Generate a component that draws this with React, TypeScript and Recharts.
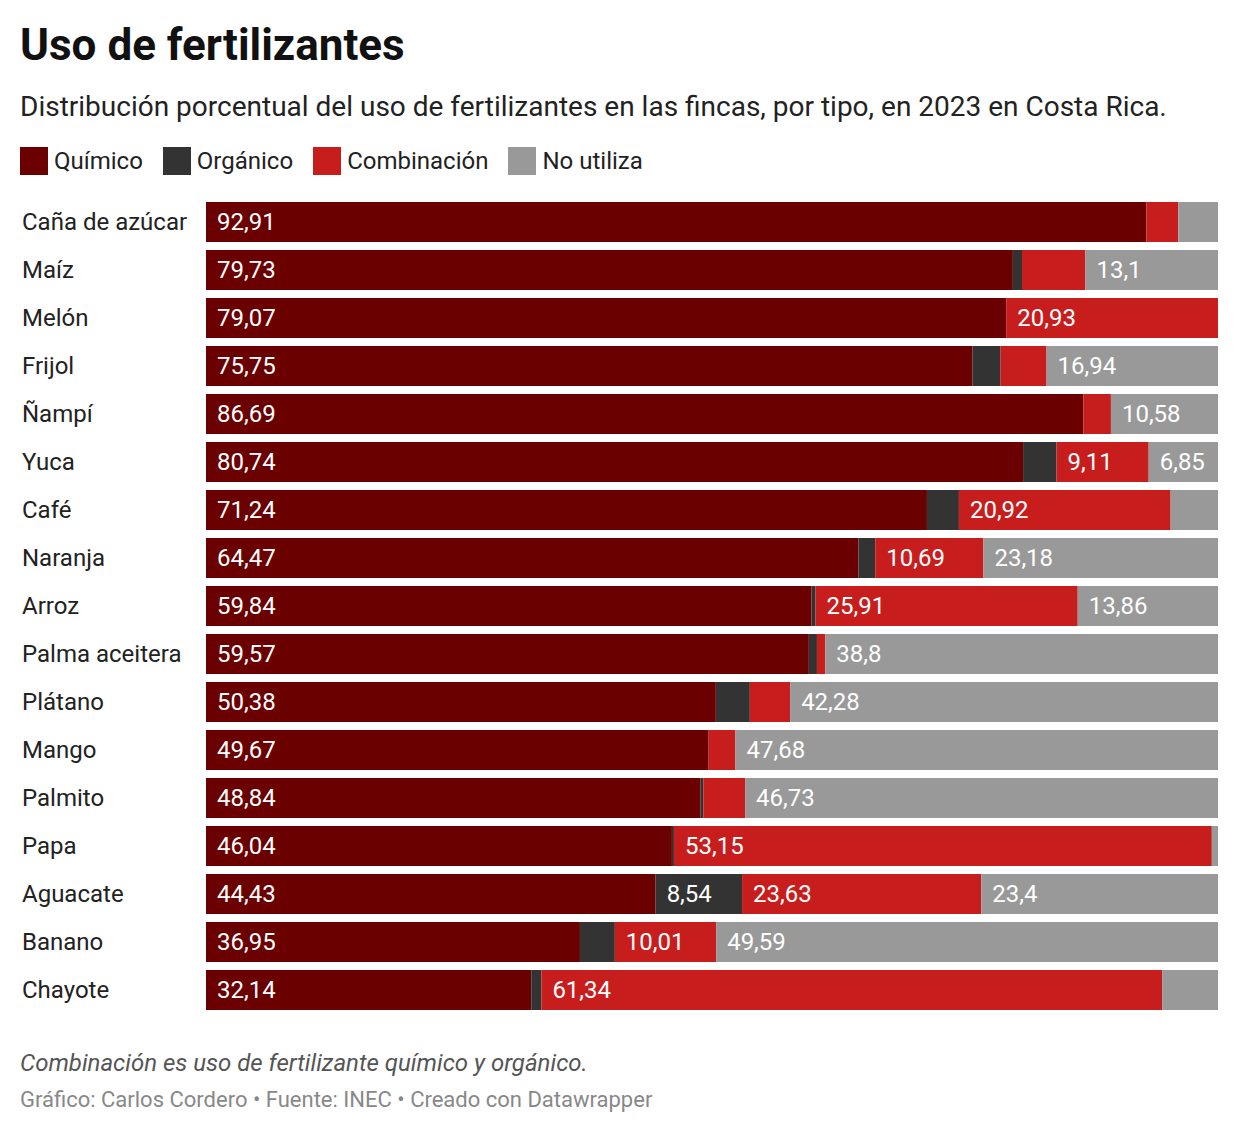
import React from "react";
import { Bar, BarChart, LabelList, XAxis, YAxis } from "recharts";

const cultivos = [
  "Caña de azúcar",
  "Maíz",
  "Melón",
  "Frijol",
  "Ñampí",
  "Yuca",
  "Café",
  "Naranja",
  "Arroz",
  "Palma aceitera",
  "Plátano",
  "Mango",
  "Palmito",
  "Papa",
  "Aguacate",
  "Banano",
  "Chayote",
];

const quimico = [92.91, 79.73, 79.07, 75.75, 86.69, 80.74, 71.24, 64.47, 59.84, 59.57, 50.38, 49.67, 48.84, 46.04, 44.43, 36.95, 32.14];
const organico = [0, 0.9, 0, 2.77, 0, 3.3, 3.16, 1.66, 0.39, 0.8, 3.36, 0, 0.3, 0.2, 8.54, 3.45, 1.0];
const combinacion = [3.16, 6.27, 20.93, 4.54, 2.73, 9.11, 20.92, 10.69, 25.91, 0.83, 3.98, 2.65, 4.13, 53.15, 23.63, 10.01, 61.34];
const noUtiliza = [3.93, 13.1, 0, 16.94, 10.58, 6.85, 4.68, 23.18, 13.86, 38.8, 42.28, 47.68, 46.73, 0.61, 23.4, 49.59, 5.52];

const series = [
  { key: "quimico", name: "Químico", color: "#6b0000" },
  { key: "organico", name: "Orgánico", color: "#333333" },
  { key: "combinacion", name: "Combinación", color: "#c71e1d" },
  { key: "noUtiliza", name: "No utiliza", color: "#999999" },
];

const data = cultivos.map((name, i) => ({
  name,
  quimico: quimico[i],
  organico: organico[i],
  combinacion: combinacion[i],
  noUtiliza: noUtiliza[i],
}));

const font = "Roboto, 'Noto Sans', sans-serif";

const SegmentLabel = (props: any) => {
  const { x, y, height, value } = props;
  const v = Array.isArray(value) ? value[1] - value[0] : Number(value);
  if (!(v >= 6.5)) return null;
  const text = String(Math.round(v * 100) / 100).replace(".", ",");
  return (
    <text
      x={Number(x) + 11}
      y={Number(y) + Number(height) / 2}
      fill="#ffffff"
      fontSize={24}
      fontFamily={font}
      dominantBaseline="central"
    >
      {text}
    </text>
  );
};

const CultivoTick = (props: any) => {
  const { y, payload } = props;
  return (
    <text x={22} y={y} fill="#222222" fontSize={24} fontFamily={font} dominantBaseline="central">
      {payload.value}
    </text>
  );
};

export default function App() {
  return (
    <div
      style={{
        position: "absolute",
        top: 0,
        left: 0,
        width: 1240,
        height: 1136,
        background: "#ffffff",
        fontFamily: font,
        color: "#222222",
      }}
    >
      <div style={{ position: "absolute", left: 20, top: 22, fontSize: 44, fontWeight: 700, lineHeight: "46px", color: "#111111" }}>
        Uso de fertilizantes
      </div>
      <div style={{ position: "absolute", left: 20, top: 92, fontSize: 28, lineHeight: "30px", color: "#222222" }}>
        Distribución porcentual del uso de fertilizantes en las fincas, por tipo, en 2023 en Costa Rica.
      </div>
      <div style={{ position: "absolute", left: 20, top: 147, display: "flex", alignItems: "center", height: 28 }}>
        {series.map((s) => (
          <div key={s.key} style={{ display: "flex", alignItems: "center", marginRight: 20 }}>
            <div style={{ width: 28, height: 28, background: s.color, marginRight: 6 }} />
            <span style={{ fontSize: 24, lineHeight: "28px", color: "#222222" }}>{s.name}</span>
          </div>
        ))}
      </div>
      <div style={{ position: "absolute", left: 0, top: 0 }}>
        <BarChart
          width={1240}
          height={1030}
          data={data}
          layout="vertical"
          barCategoryGap={4}
          margin={{ top: 198, right: 22, bottom: 16, left: 20 }}
        >
          <XAxis type="number" domain={[0, 100]} hide />
          <YAxis
            type="category"
            dataKey="name"
            width={186}
            axisLine={false}
            tickLine={false}
            tick={<CultivoTick />}
            interval={0}
          />
          {series.map((s) => (
            <Bar
              key={s.key}
              dataKey={s.key}
              name={s.name}
              stackId="a"
              fill={s.color}
              barSize={40}
              isAnimationActive={false}
            >
              <LabelList dataKey={s.key} content={<SegmentLabel />} />
            </Bar>
          ))}
        </BarChart>
      </div>
      <div style={{ position: "absolute", left: 20, top: 1049, fontSize: 24, lineHeight: "28px", fontStyle: "italic", color: "#555555" }}>
        Combinación es uso de fertilizante químico y orgánico.
      </div>
      <div style={{ position: "absolute", left: 20, top: 1087, fontSize: 22, lineHeight: "26px", color: "#888888" }}>
        Gráfico: Carlos Cordero • Fuente: INEC • Creado con Datawrapper
      </div>
    </div>
  );
}
